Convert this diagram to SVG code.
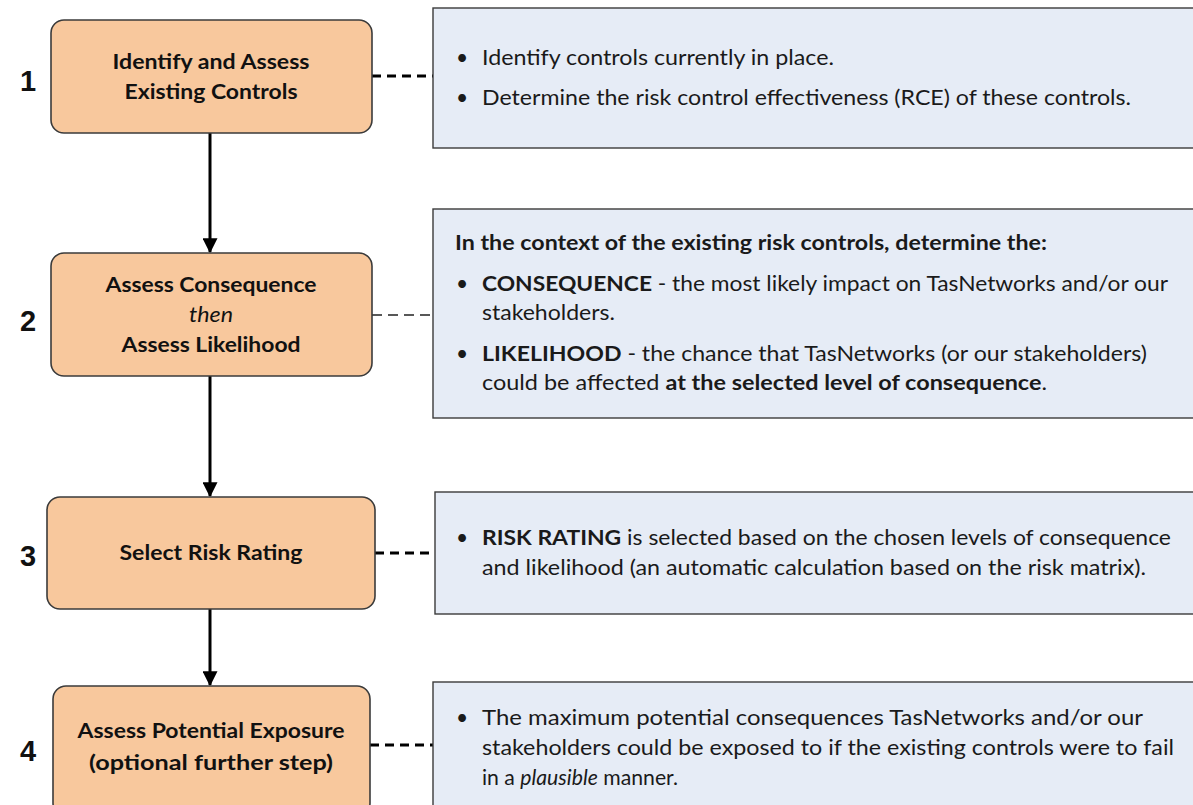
<svg xmlns="http://www.w3.org/2000/svg" width="1193" height="805" viewBox="0 0 1193 805">
<style>
.step{fill:#F8C89D;stroke:#3b3b3b;stroke-width:1.6}
.info{fill:#E6ECF6;stroke:#3b3b3b;stroke-width:1.4}
.t{font-family:Lato,"Liberation Sans",sans-serif;font-size:21px;fill:#1a1a1a}
.sb{font-family:Lato,"Liberation Sans",sans-serif;font-size:21px;font-weight:bold;fill:#111;text-anchor:middle}
.num{font-family:"Liberation Sans",Arial,sans-serif;font-size:29px;font-weight:bold;fill:#111;text-anchor:middle}
.b{font-weight:bold}
.i{font-style:italic}
.flow{stroke:#000;stroke-width:3;fill:none}
.dash{stroke:#000;stroke-width:3;stroke-dasharray:9 6;fill:none}
.dash2{stroke:#222;stroke-width:1.5;stroke-dasharray:10 6;fill:none}
</style>
<defs>
<marker id="ah" markerWidth="5" markerHeight="5" refX="4.6" refY="2.5" orient="auto" markerUnits="strokeWidth">
<path d="M0,0 L5,2.5 L0,5 Z" fill="#000"/>
</marker>
</defs>
<rect width="1193" height="805" fill="#fff"/>

<g id="connectors">
<line class="flow" x1="210" y1="133" x2="210" y2="252" marker-end="url(#ah)"/>
<line class="flow" x1="210" y1="376" x2="210" y2="496" marker-end="url(#ah)"/>
<line class="flow" x1="210" y1="609" x2="210" y2="685" marker-end="url(#ah)"/>
<line class="dash" x1="372" y1="76" x2="433" y2="76"/>
<line class="dash2" x1="372" y1="315" x2="433" y2="315"/>
<line class="dash" x1="375" y1="553" x2="435" y2="553"/>
<line class="dash" x1="370" y1="745" x2="433" y2="745"/>
</g>

<g id="num1"><text class="num" x="28" y="91">1</text></g>
<g id="num2"><text class="num" x="28" y="331">2</text></g>
<g id="num3"><text class="num" x="28" y="566">3</text></g>
<g id="num4"><text class="num" x="28" y="761">4</text></g>

<g id="step1">
<rect class="step" x="51" y="20" width="321" height="113" rx="13"/>
<text class="sb" x="211" y="69" textLength="197" lengthAdjust="spacingAndGlyphs">Identify and Assess</text>
<text class="sb" x="211" y="99" textLength="173" lengthAdjust="spacingAndGlyphs">Existing Controls</text>
</g>
<g id="info1">
<rect class="info" x="433" y="8" width="770" height="140"/>
<text class="t" x="456" y="65">•</text>
<text class="t" x="482" y="65" textLength="352" lengthAdjust="spacingAndGlyphs">Identify controls currently in place.</text>
<text class="t" x="456" y="105">•</text>
<text class="t" x="482" y="105" textLength="649" lengthAdjust="spacingAndGlyphs">Determine the risk control effectiveness (RCE) of these controls.</text>
</g>

<g id="step2">
<rect class="step" x="51" y="253" width="321" height="123" rx="13"/>
<text class="sb" x="211" y="292" textLength="211" lengthAdjust="spacingAndGlyphs">Assess Consequence</text>
<text class="sb" x="211" y="322" style="font-weight:normal;font-style:italic" textLength="44" lengthAdjust="spacingAndGlyphs">then</text>
<text class="sb" x="211" y="352" textLength="179" lengthAdjust="spacingAndGlyphs">Assess Likelihood</text>
</g>
<g id="info2">
<rect class="info" x="433" y="209" width="770" height="209"/>
<text class="t b" x="455" y="250" textLength="592" lengthAdjust="spacingAndGlyphs">In the context of the existing risk controls, determine the:</text>
<text class="t" x="456" y="291">•</text>
<text class="t" x="482" y="291" textLength="686" lengthAdjust="spacingAndGlyphs"><tspan class="b">CONSEQUENCE</tspan> - the most likely impact on TasNetworks and/or our</text>
<text class="t" x="482" y="320" textLength="133" lengthAdjust="spacingAndGlyphs">stakeholders.</text>
<text class="t" x="456" y="361">•</text>
<text class="t" x="482" y="361" textLength="665" lengthAdjust="spacingAndGlyphs"><tspan class="b">LIKELIHOOD</tspan> - the chance that TasNetworks (or our stakeholders)</text>
<text class="t" x="482" y="390" textLength="565" lengthAdjust="spacingAndGlyphs">could be affected <tspan class="b">at the selected level of consequence</tspan>.</text>
</g>

<g id="step3">
<rect class="step" x="47" y="497" width="328" height="112" rx="13"/>
<text class="sb" x="211" y="560" textLength="183" lengthAdjust="spacingAndGlyphs">Select Risk Rating</text>
</g>
<g id="info3">
<rect class="info" x="435" y="492" width="770" height="122"/>
<text class="t" x="456" y="545">•</text>
<text class="t" x="482" y="545" textLength="689" lengthAdjust="spacingAndGlyphs"><tspan class="b">RISK RATING</tspan> is selected based on the chosen levels of consequence</text>
<text class="t" x="482" y="575" textLength="664" lengthAdjust="spacingAndGlyphs">and likelihood (an automatic calculation based on the risk matrix).</text>
</g>

<g id="step4">
<rect class="step" x="53" y="686" width="317" height="130" rx="13"/>
<text class="sb" x="211" y="738" textLength="267" lengthAdjust="spacingAndGlyphs">Assess Potential Exposure</text>
<text class="sb" x="211" y="770" textLength="244" lengthAdjust="spacingAndGlyphs">(optional further step)</text>
</g>
<g id="info4">
<rect class="info" x="433" y="682" width="770" height="140"/>
<text class="t" x="456" y="725">•</text>
<text class="t" x="482" y="725" textLength="661" lengthAdjust="spacingAndGlyphs">The maximum potential consequences TasNetworks and/or our</text>
<text class="t" x="482" y="755" textLength="692" lengthAdjust="spacingAndGlyphs">stakeholders could be exposed to if the existing controls were to fail</text>
<text class="t" x="482" y="785" textLength="196" lengthAdjust="spacingAndGlyphs">in a <tspan class="i">plausible</tspan> manner.</text>
</g>
</svg>
